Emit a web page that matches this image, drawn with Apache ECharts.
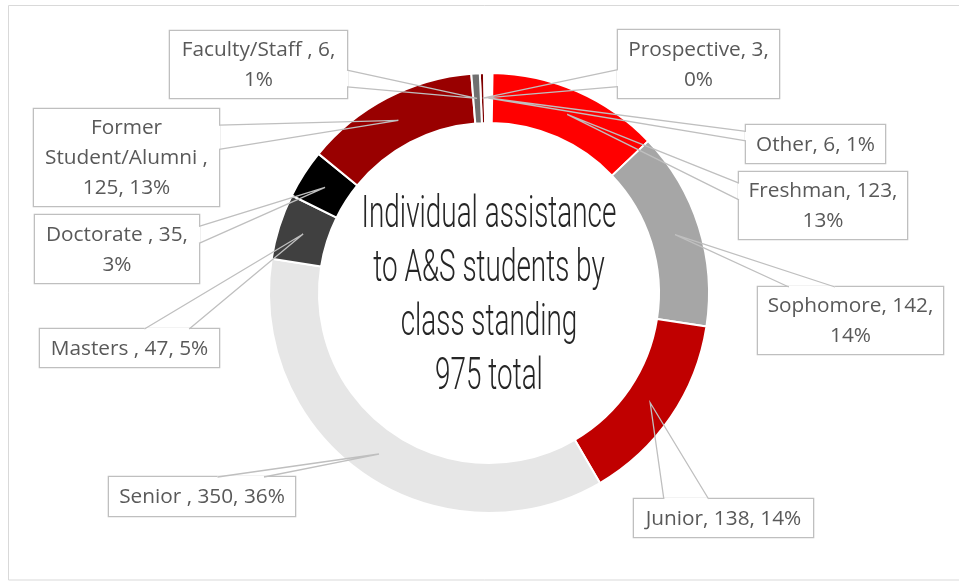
<!DOCTYPE html>
<html><head><meta charset="utf-8">
<script src="https://cdn.jsdelivr.net/npm/echarts@6/dist/echarts.min.js"></script>
<style>html,body{margin:0;padding:0;background:#fff}#c{width:959px;height:582px}</style>
</head><body><div id="c"></div>
<script>
// ---- data ----
const categories = ['Prospective','Other','Freshman','Sophomore','Junior','Senior ','Masters ','Doctorate ','Former Student/Alumni ','Faculty/Staff '];
const counts = [3, 6, 123, 142, 138, 350, 47, 35, 125, 6];
const titleLines = ['Individual assistance', 'to A&S students by', 'class standing'];
const totalSuffix = ' total';

// ---- styles / layout ----
const sliceColors = ['#7f0000','#ffffff','#ff0000','#a6a6a6','#c00000','#e6e6e6','#404040','#000000','#990000','#707070'];
// label boxes: [left, top, width, height]
const labelBoxes = [
  [618, 30, 161, 68],
  [746, 125, 139, 38],
  [739, 172, 168, 67],
  [758, 287, 185, 67],
  [634, 499, 179, 38],
  [109, 477, 186, 39],
  [40, 329, 179, 38],
  [35, 215, 164, 68],
  [34, 109, 185, 97],
  [170, 31, 177, 67]
];
// word index after which a line break is placed
const labelWraps = [[1],[],[1],[1],[],[],[],[2],[0,2],[2]];

const CX = 489, CY = 293, R0 = 170, R = 220;
const LH = 30;
const LINE_COLOR = '#bfbfbf';
const total = counts.reduce((a, b) => a + b, 0);

const chart = echarts.init(document.getElementById('c'), null, {renderer: 'canvas'});

const data = categories.map((name, i) => {
  const n = labelWraps[i].length + 1;
  const pv = (labelBoxes[i][3] - n * LH) / 2;
  return {
    name: name,
    value: counts[i],
    itemStyle: {color: sliceColors[i]},
    label: {width: labelBoxes[i][2] - 20, padding: [pv + 1, 10, pv - 1, 10]}
  };
});

function labelText(p) {
  const words = (p.name + ', ' + p.value + ', ' + p.percent + '%').split(' ');
  const br = labelWraps[p.dataIndex];
  let s = '';
  words.forEach((w, k) => {
    s += w;
    if (k < words.length - 1) s += br.indexOf(k) >= 0 ? '\n' : ' ';
  });
  return s;
}

const callouts = [];

function baseGraphic() {
  return [
    {type: 'rect', id: 'frame', silent: true, shape: {x: 8.5, y: 5.5, width: 1000, height: 574.5},
     style: {fill: 'none', stroke: '#d9d9d9', lineWidth: 1}, z: -1},
    {type: 'text', id: 'title', silent: true, x: CX, y: CY + 4, scaleX: 0.62, z: 10,
     style: {text: titleLines.concat([total + totalSuffix]).join('\n'),
             fontFamily: 'Roboto', fontWeight: 300, fontSize: 45, lineHeight: 54,
             fill: '#262626', align: 'center', verticalAlign: 'middle'}}
  ];
}

chart.setOption({
  animation: false,
  graphic: baseGraphic(),
  series: [{
    type: 'pie',
    center: [CX, CY],
    radius: [R0, R],
    startAngle: 92.4,
    clockwise: true,
    avoidLabelOverlap: false,
    percentPrecision: 0,
    silent: true,
    emphasis: {disabled: true},
    itemStyle: {borderColor: '#ffffff', borderWidth: 2},
    label: {
      show: true, position: 'outside', formatter: labelText,
      color: '#595959', fontFamily: 'Open Sans', fontSize: 20.8, lineHeight: LH,
      backgroundColor: '#ffffff', borderColor: LINE_COLOR, borderWidth: 1.3,
      overflow: 'none', align: 'center'
    },
    labelLine: {show: true, length: 10, length2: 10, lineStyle: {color: LINE_COLOR, width: 1, opacity: 0}},
    labelLayout: function (p) {
      const b = labelBoxes[p.dataIndex];
      const l = b[0], t = b[1], w = b[2], h = b[3];
      const pts = p.labelLinePoints;
      const ox = pts[0][0] - CX, oy = pts[0][1] - CY;
      const d = Math.sqrt(ox * ox + oy * oy) || 1;
      const rm = (R + R0) / 2;
      const tx = CX + ox / d * rm, ty = CY + oy / d * rm;
      const hc = l + w / 2, vc = t + h / 2;
      const dx = tx - hc, dy = ty - vc;
      const dq = dx * h / w;
      let a, c;
      if (Math.abs(dy) > Math.abs(dq)) {
        const yE = dy > 0 ? t + h : t;
        const g1 = dx > 0 ? 7 : 2, g2 = dx > 0 ? 10 : 5;
        a = [l + w * g1 / 12, yE]; c = [l + w * g2 / 12, yE];
      } else {
        const xE = dx > 0 ? l + w : l;
        const g1 = dy > 0 ? 7 : 2, g2 = dy > 0 ? 10 : 5;
        a = [xE, t + h * g1 / 12]; c = [xE, t + h * g2 / 12];
      }
      callouts[p.dataIndex] = [a, [tx, ty], c];
      return {x: hc, y: t, align: 'center', verticalAlign: 'top', labelLinePoints: [a, [tx, ty], c]};
    },
    data: data
  }]
});

// callout pointers drawn above the ring, from the library-computed slice anchors
const g = baseGraphic();
callouts.forEach((pts, i) => {
  if (!pts) return;
  g.push({type: 'polyline', id: 'gap' + i, silent: true, z: 100,
          shape: {points: [pts[0], pts[2]]}, style: {stroke: '#ffffff', lineWidth: 2.5, fill: null}});
  g.push({type: 'polyline', id: 'ptr' + i, silent: true, z: 101,
          shape: {points: pts}, style: {stroke: LINE_COLOR, lineWidth: 1.3, fill: null}});
});
chart.setOption({graphic: g});
</script>
</body></html>
